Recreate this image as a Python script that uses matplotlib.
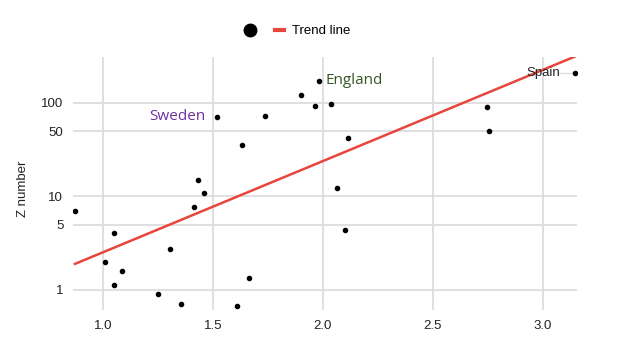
import numpy as np
import matplotlib.pyplot as plt
from matplotlib.lines import Line2D

plt.rcParams['font.family'] = ['Liberation Sans', 'DejaVu Sans']

# Data
x_vals = [0.873, 1.009, 1.05, 1.049, 1.085, 1.249, 1.303, 1.356, 1.414, 1.433,
          1.461, 1.518, 1.611, 1.630, 1.662, 1.735, 1.902, 1.962, 1.980, 2.036,
          2.062, 2.100, 2.114, 2.747, 2.756, 3.145]
z_vals = [6.95, 2.01, 4.1, 1.14, 1.61, 0.90, 2.72, 0.71, 7.7, 14.9,
          10.9, 70.8, 0.67, 35.5, 1.35, 72.6, 121.8, 93.6, 170.7, 97.6,
          12.3, 4.38, 42.2, 90.0, 50.6, 211.0]

trend_x = [0.873, 3.145]
trend_z = [1.9, 313.0]

y_ticks = [1, 5, 10, 50, 100]
x_ticks = [1.0, 1.5, 2.0, 2.5, 3.0]

fig = plt.figure(figsize=(6.31, 3.58), dpi=100)
ax = fig.add_axes([0.1157, 0.134, 0.7987, 0.7068])

ax.set_yscale('log')
ax.set_xlim(0.864, 3.155)
ax.set_ylim(0.61, 310)

ax.plot(trend_x, trend_z, color='#e8453c', linewidth=1.8, zorder=3)
ax.scatter(x_vals, z_vals, s=9, color='black', zorder=4)

ax.set_xticks(x_ticks)
ax.set_xticklabels(['1.0', '1.5', '2.0', '2.5', '3.0'])
ax.set_yticks(y_ticks)
ax.set_yticklabels([str(t) for t in y_ticks])
ax.minorticks_off()
ax.tick_params(length=0, labelsize=9.5, labelcolor='#222222', pad=7)
ax.grid(True, color='#dddddd', linewidth=1.3)
ax.set_axisbelow(True)
for s in ax.spines.values():
    s.set_visible(False)

ax.set_ylabel('Z number', fontsize=9.5, color='#222222')
ax.yaxis.set_label_coords(-0.088, 0.48)

# Annotations
ax.text(x_vals[11] - 0.05, z_vals[11], 'Sweden', color='#7030a0', fontsize=11,
        family='Open Sans', ha='right', va='center')
ax.text(x_vals[18] + 0.03, z_vals[18] * 1.02, 'England', color='#375623', fontsize=11,
        family='Open Sans', ha='left', va='center')
ax.plot([3.075, x_vals[25]], [z_vals[25], z_vals[25]], color='#dddddd', linewidth=1, zorder=3)
ax.text(3.08, z_vals[25], 'Spain', color='#222222', fontsize=9.5,
        ha='right', va='center', zorder=5)

handles = [Line2D([], [], marker='o', color='black', linestyle='none', markersize=9),
           Line2D([], [], color='#e8453c', linewidth=3)]
fig.legend(handles, ['', 'Trend line'], loc='center', bbox_to_anchor=(0.472, 0.913),
           ncol=2, frameon=False, fontsize=9.5, handlelength=0.7, columnspacing=1.0,
           handletextpad=0.6)

fig.savefig('out.png', dpi=100)
